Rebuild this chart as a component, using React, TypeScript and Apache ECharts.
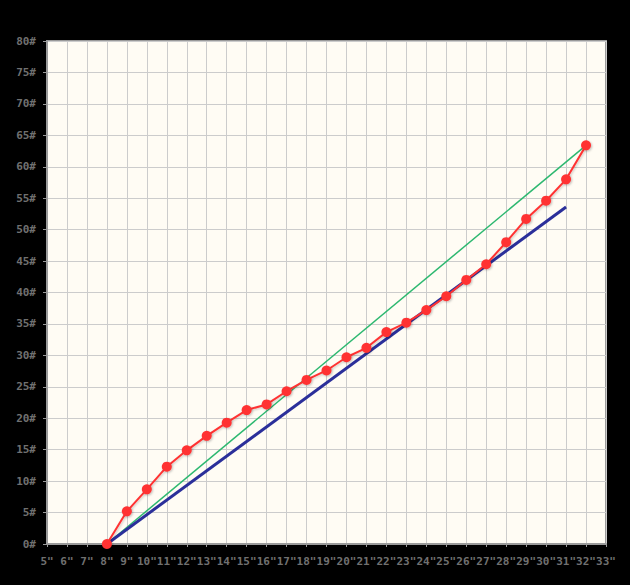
import React, { useEffect, useRef } from "react";
import * as echarts from "echarts";

const xValues = [8, 9, 10, 11, 12, 13, 14, 15, 16, 17, 18, 19, 20, 21, 22, 23, 24, 25, 26, 27, 28, 29, 30, 31, 32];
const redValues = [0, 5.2, 8.7, 12.3, 14.9, 17.2, 19.3, 21.3, 22.2, 24.3, 26.1, 27.6, 29.7, 31.2, 33.7, 35.2, 37.2, 39.4, 42.0, 44.5, 48.0, 51.7, 54.6, 58.0, 63.4];
const greenLine = [[8, 0], [32, 63.4]];
const blueLine = [[8, 0], [31, 53.6]];

export default function App() {
  const ref = useRef<HTMLDivElement>(null);
  useEffect(() => {
    if (!ref.current) return;
    const chart = echarts.init(ref.current, null, { renderer: "svg" });
    const labelFont = {
      color: "#707070",
      fontFamily: "DejaVu Sans Mono",
      fontWeight: "bold" as const,
      fontSize: 11,
    };
    chart.setOption({
      animation: false,
      backgroundColor: "#000000",
      grid: {
        left: 47,
        top: 41,
        right: 24,
        bottom: 41,
        show: true,
        backgroundColor: "#fffcf4",
        borderColor: "#9a9a9a",
        borderWidth: 2,
      },
      xAxis: {
        type: "value",
        min: 5,
        max: 33,
        interval: 1,
        axisLine: { show: true, lineStyle: { color: "#9a9a9a", width: 2 } },
        axisTick: { show: true, length: 3, lineStyle: { color: "#9a9a9a" } },
        axisLabel: { ...labelFont, margin: 12, formatter: (v: number) => `${v}"` },
        splitLine: { show: true, lineStyle: { color: "#cccccc", width: 1 } },
      },
      yAxis: {
        type: "value",
        min: 0,
        max: 80,
        interval: 5,
        axisLine: { show: true, lineStyle: { color: "#9a9a9a", width: 2 } },
        axisTick: { show: true, length: 4, lineStyle: { color: "#9a9a9a" } },
        axisLabel: { ...labelFont, margin: 11, formatter: (v: number) => `${v}#` },
        splitLine: { show: true, lineStyle: { color: "#cccccc", width: 1 } },
      },
      series: [
        {
          type: "line",
          data: greenLine,
          symbol: "none",
          lineStyle: { color: "#2db870", width: 1.5 },
          z: 2,
        },
        {
          type: "line",
          data: blueLine,
          symbol: "none",
          lineStyle: { color: "#2b2f9a", width: 3 },
          z: 3,
        },
        {
          type: "line",
          data: xValues.map((x, i) => [x, redValues[i]]),
          symbol: "circle",
          symbolSize: 10,
          itemStyle: {
            color: "#ff3333",
            shadowColor: "rgba(0,0,0,0.25)",
            shadowBlur: 2,
            shadowOffsetX: 1,
            shadowOffsetY: 1,
          },
          lineStyle: {
            color: "#ff3333",
            width: 2,
            shadowColor: "rgba(0,0,0,0.2)",
            shadowBlur: 2,
            shadowOffsetX: 1,
            shadowOffsetY: 1,
          },
          z: 4,
        },
      ],
    });
    return () => chart.dispose();
  }, []);
  return <div ref={ref} style={{ width: 630, height: 585, position: "absolute", left: 0, top: 0 }} />;
}
